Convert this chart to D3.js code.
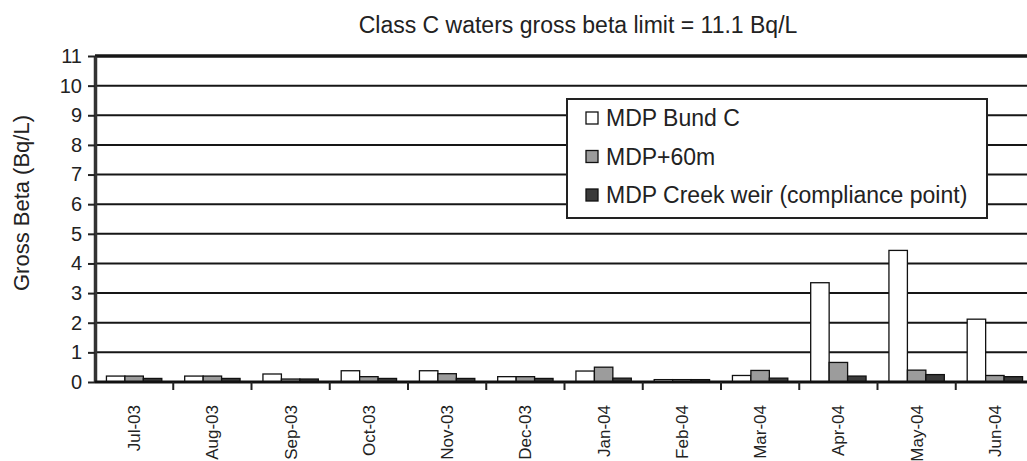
<!DOCTYPE html>
<meta charset="utf-8">
<style>
  body { margin: 0; background: #fff; }
  svg { font-family: "Liberation Sans", Arial, sans-serif; }
  .grid line { stroke: #161616; stroke-width: 2; }
  .axis text { fill: #222; }
  .bar { stroke: #111; stroke-width: 1.3; }
</style>
<body>
<svg id="chart"></svg>
<script src="https://d3js.org/d3.v7.min.js"></script>
<script>
var months = ["Jul-03", "Aug-03", "Sep-03", "Oct-03", "Nov-03", "Dec-03",
              "Jan-04", "Feb-04", "Mar-04", "Apr-04", "May-04", "Jun-04"];
var seriesNames = ["MDP Bund C", "MDP+60m", "MDP Creek weir (compliance point)"];
var bundC     = [0.2, 0.2, 0.27, 0.38, 0.38, 0.18, 0.37, 0.08, 0.22, 3.35, 4.44, 2.12];
var plus60m   = [0.2, 0.2, 0.1, 0.18, 0.28, 0.18, 0.5, 0.08, 0.39, 0.66, 0.4, 0.22];
var creekWeir = [0.12, 0.12, 0.1, 0.12, 0.12, 0.12, 0.13, 0.08, 0.13, 0.2, 0.25, 0.18];
var yTicks = [0, 1, 2, 3, 4, 5, 6, 7, 8, 9, 10, 11];
var colors = ["#ffffff", "#9c9c9c", "#3a3a3a"];
var title = "Class C waters gross beta limit = 11.1 Bq/L";
var yLabel = "Gross Beta (Bq/L)";

var W = 1027, H = 461;
// plot box (right edge runs past the picture, like the reference)
var pLeft = 95, pTop = 56, pBottom = 382, pRight = 1034;

var svg = d3.select("#chart").attr("width", W).attr("height", H);

var y = d3.scaleLinear().domain([0, 11]).range([pBottom, pTop]);
var x0 = d3.scaleBand().domain(months).range([pLeft, pRight]).padding(0);
var x1 = d3.scaleBand().domain([0, 1, 2]).range([0, x0.bandwidth()])
    .paddingInner(0).paddingOuter(0.62);

// title
svg.append("text")
    .attr("x", 578).attr("y", 33)
    .attr("text-anchor", "middle")
    .attr("font-size", 23)
    .attr("fill", "#222")
    .text(title);

// horizontal grid lines
svg.append("g").attr("class", "grid")
  .selectAll("line")
  .data(yTicks.slice(1))
  .enter().append("line")
    .attr("x1", pLeft).attr("x2", pRight)
    .attr("y1", function(d) { return y(d); })
    .attr("y2", function(d) { return y(d); })
    .style("stroke-width", function(d) { return d == 11 ? 3.5 : 2; });

// bars
var table = months.map(function(m, i) {
  return { month: m, vals: [bundC[i], plus60m[i], creekWeir[i]] };
});

svg.append("g")
  .selectAll("g")
  .data(table)
  .enter().append("g")
    .attr("transform", function(d) { return "translate(" + x0(d.month) + ",0)"; })
  .selectAll("rect")
  .data(function(d) { return d.vals; })
  .enter().append("rect")
    .attr("class", "bar")
    .attr("x", function(d, i) { return x1(i); })
    .attr("width", x1.bandwidth())
    .attr("y", function(d) { return y(d); })
    .attr("height", function(d) { return y(0) - y(d); })
    .attr("fill", function(d, i) { return colors[i]; });

// y axis
var yAxis = svg.append("g").attr("class", "axis")
    .attr("transform", "translate(" + pLeft + ",0)")
    .call(d3.axisLeft(y).tickValues(yTicks).tickSize(7).tickPadding(6).tickSizeOuter(0));
yAxis.select(".domain").attr("stroke", "#333").attr("stroke-width", 3.5);
yAxis.selectAll(".tick line").attr("stroke", "#222").attr("stroke-width", 2);
yAxis.selectAll("text").attr("font-size", 20).attr("font-family", "Liberation Sans, Arial, sans-serif");

// x axis baseline
svg.append("line")
    .attr("x1", pLeft).attr("x2", pRight)
    .attr("y1", y(0)).attr("y2", y(0))
    .attr("stroke", "#111").attr("stroke-width", 3);

// x boundary ticks
svg.append("g")
  .selectAll("line")
  .data(months.slice(1))
  .enter().append("line")
    .attr("x1", function(d) { return x0(d); })
    .attr("x2", function(d) { return x0(d); })
    .attr("y1", y(0)).attr("y2", y(0) + 8)
    .attr("stroke", "#222").attr("stroke-width", 2);

// x labels
svg.append("g").attr("class", "axis")
  .selectAll("text")
  .data(months)
  .enter().append("text")
    .attr("transform", function(d) {
      return "translate(" + (x0(d) + x0.bandwidth() / 2) + "," + 405 + ") rotate(-90)";
    })
    .attr("text-anchor", "end")
    .attr("dy", "0.35em")
    .attr("font-size", 17)
    .text(function(d) { return d; });

// y label
svg.append("text")
    .attr("transform", "translate(29,203) rotate(-90)")
    .attr("text-anchor", "middle")
    .attr("font-size", 22)
    .attr("fill", "#222")
    .text(yLabel);

// legend
var lg = svg.append("g");
lg.append("rect")
    .attr("x", 567).attr("y", 99)
    .attr("width", 420).attr("height", 119)
    .attr("fill", "#fff").attr("stroke", "#222").attr("stroke-width", 2);

var rows = lg.selectAll(".row")
  .data(seriesNames)
  .enter().append("g")
    .attr("class", "row")
    .attr("transform", function(d, i) { return "translate(586," + (118 + i * 38.5) + ")"; });

rows.append("rect")
    .attr("x", 0).attr("y", -6)
    .attr("width", 12).attr("height", 12)
    .attr("fill", function(d, i) { return colors[i]; })
    .attr("stroke", "#111").attr("stroke-width", 1.3);

rows.append("text")
    .attr("x", 20).attr("dy", "0.36em")
    .attr("font-size", 23)
    .attr("fill", "#222")
    .text(function(d) { return d; });
</script>
</body>
